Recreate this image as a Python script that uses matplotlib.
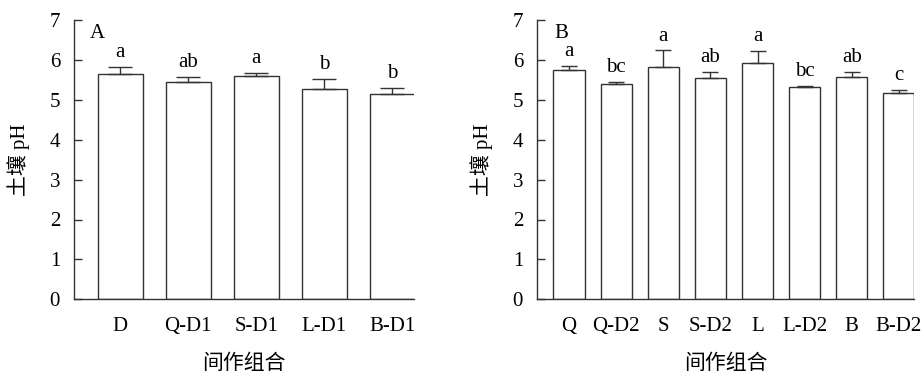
import numpy as np
import matplotlib
matplotlib.use('Agg')
import matplotlib.pyplot as plt

plt.rcParams['font.family'] = ['Liberation Serif', 'Noto Sans CJK SC']
plt.rcParams['axes.unicode_minus'] = False

# Panel A data
cats_a = ['D', 'Q-D1', 'S-D1', 'L-D1', 'B-D1']
vals_a = [5.65, 5.44, 5.60, 5.27, 5.14]
errs_a = [0.18, 0.13, 0.07, 0.26, 0.16]
sig_a = ['a', 'ab', 'a', 'b', 'b']

# Panel B data
cats_b = ['Q', 'Q-D2', 'S', 'S-D2', 'L', 'L-D2', 'B', 'B-D2']
vals_b = [5.75, 5.39, 5.83, 5.55, 5.92, 5.33, 5.57, 5.17]
errs_b = [0.10, 0.06, 0.41, 0.15, 0.31, 0.02, 0.12, 0.08]
sig_b = ['a', 'bc', 'a', 'ab', 'a', 'bc', 'ab', 'c']

fig = plt.figure(figsize=(9.22, 3.73), dpi=100)
ax_a = fig.add_axes([74/922, 1-299.3/373, (414-74)/922, (299.3-20)/373])
ax_b = fig.add_axes([537/922, 1-299.3/373, (914-537)/922, (299.3-20)/373])

fs = 15
edge = '#333333'


def draw_panel(ax, cats, vals, errs, sig, tag, cap):
    x = np.arange(len(cats))
    ax.bar(x, vals, width=0.66, color='white', edgecolor=edge, linewidth=1.0, zorder=2)
    ax.errorbar(x, vals, yerr=[np.zeros(len(errs)), errs], fmt='none',
                ecolor=edge, elinewidth=1.0, capsize=cap, capthick=1.0, zorder=3)
    for xi, v, e, s in zip(x, vals, errs, sig):
        ax.text(xi, v + e + 0.12, s, ha='center', va='bottom', fontsize=fs)
    ax.set_xlim(-0.68, len(cats) - 0.68)
    ax.set_ylim(0, 7)
    ax.set_yticks(range(8))
    ax.set_xticks(x)
    ax.set_xticklabels(cats)
    for s in ['top', 'right']:
        ax.spines[s].set_visible(False)
    for s in ['left', 'bottom']:
        ax.spines[s].set_linewidth(1.0)
        ax.spines[s].set_color(edge)
    ax.tick_params(axis='y', direction='in', length=6, width=1.0, color=edge,
                   labelsize=fs, pad=10)
    ax.tick_params(axis='x', length=0, labelsize=fs, pad=13)
    ax.set_ylabel('土壤 pH', fontsize=fs, labelpad=14)
    ax.set_xlabel('间作组合', fontsize=fs, labelpad=13)
    ax.text(0.045, 0.985, tag, transform=ax.transAxes, ha='left', va='top', fontsize=fs)


draw_panel(ax_a, cats_a, vals_a, errs_a, sig_a, 'A', 8.5)
draw_panel(ax_b, cats_b, vals_b, errs_b, sig_b, 'B', 5.7)

fig.savefig('out.png', dpi=100)
